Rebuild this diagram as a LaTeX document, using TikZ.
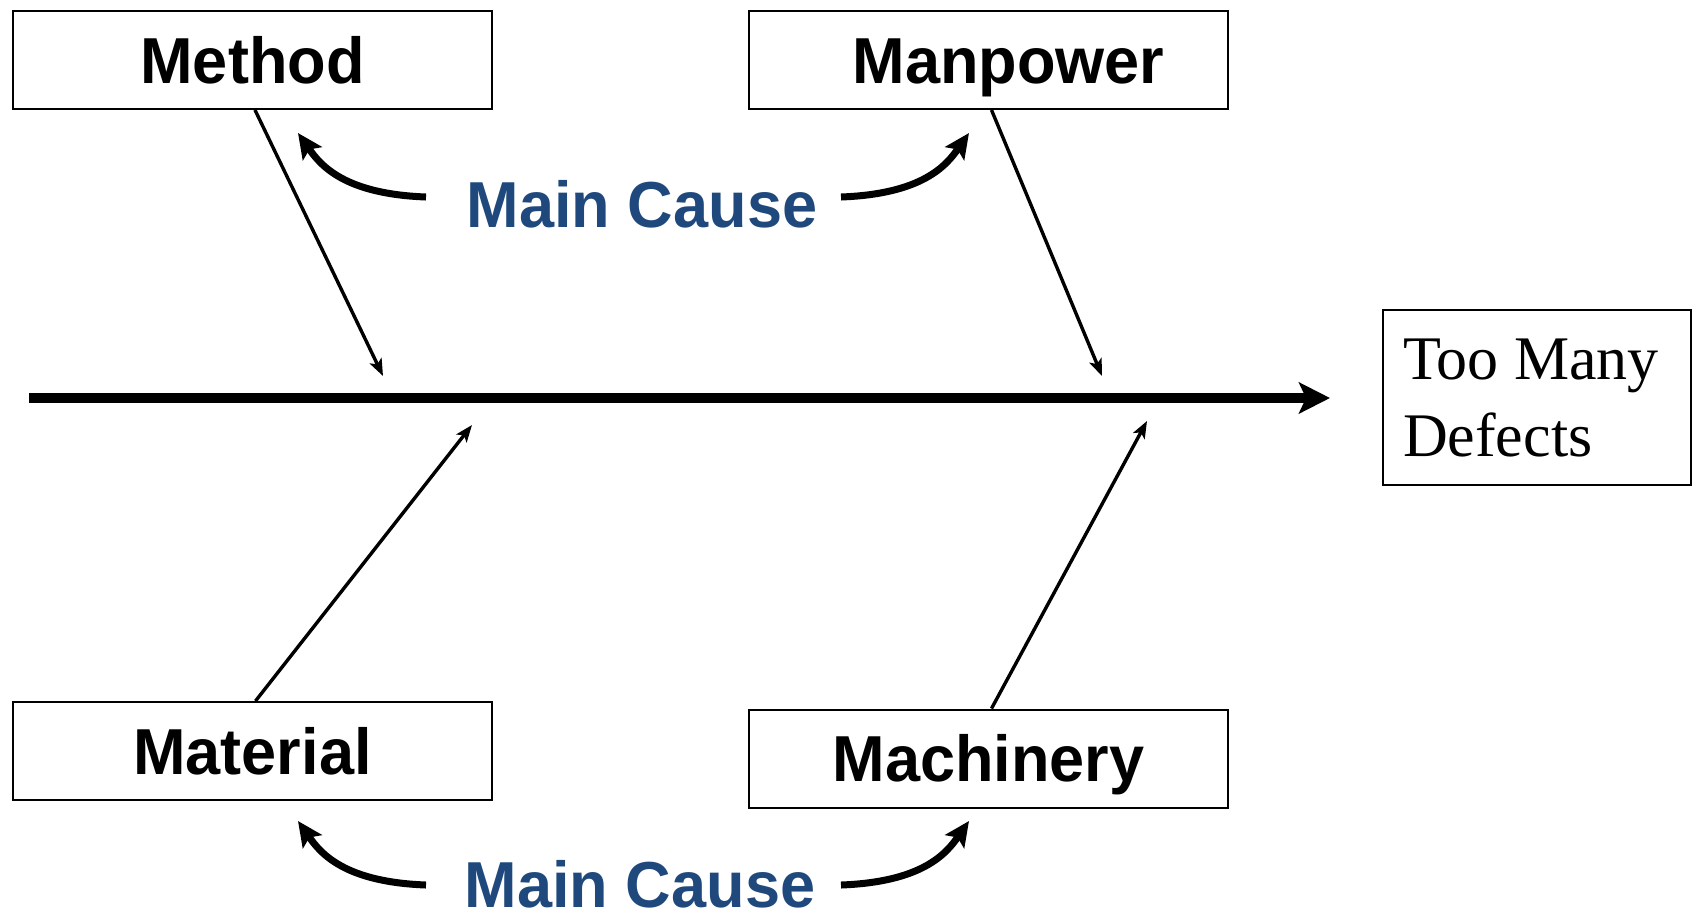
\documentclass[tikz,border=0pt]{standalone}
\usepackage{fontspec}
\setmainfont{Liberation Serif}
\newfontfamily\labelfont[FakeStretch=0.97]{Liberation Sans}
\usetikzlibrary{arrows.meta}
\definecolor{causeblue}{RGB}{31,73,125}
\begin{document}
\begin{tikzpicture}[x=1pt,y=-1pt,
  causebox/.style={draw, line width=2pt, minimum width=479pt, minimum height=98pt,
    inner sep=0pt, text height=46.5pt, text depth=0pt,
    font=\labelfont\bfseries\fontsize{65}{78}\selectfont},
  effectbox/.style={draw, line width=2pt, minimum width=308pt, minimum height=175pt,
    inner xsep=20pt, inner ysep=0pt, text width=268pt, align=flush left,
    font=\fontsize{62}{77}\selectfont},
  causelabel/.style={text=causeblue, inner sep=0pt, text height=46.5pt, text depth=0pt,
    font=\labelfont\bfseries\fontsize{65}{78}\selectfont},
  spine/.style={line width=10pt, -{Stealth[length=31pt,width=31pt,inset=7pt]}},
  bone/.style={line width=3.4pt, -{Stealth[length=17pt,width=13pt,inset=4pt]}},
  pointer/.style={line width=7pt, -{Stealth[length=25pt,width=23pt,inset=5pt]}},
]
\useasboundingbox (0,0) rectangle (1693,914);

% cause categories
\node[causebox] (method)    at (252.5,60)  {Method};
\node[causebox] (manpower)  at (988.5,60)  {\hspace*{40pt}Manpower};
\node[causebox] (material)  at (252.5,751) {Material};
\node[causebox] (machinery) at (988.5,758.5) {Machinery};

% effect
\node[effectbox] (effect) at (1537,397.5) {Too Many\\Defects};

% main-cause callouts
\node[causelabel] (causetop) at (642,204.5) {Main Cause};
\node[causelabel] (causebot) at (640,884) {Main Cause};

% spine of the fishbone
\coordinate (tail) at (29,398);
\coordinate (head) at (1330,398);
\draw[spine] (tail) -- (head);

% bones meeting the spine
\coordinate (j1) at (383,376);
\coordinate (j2) at (1102,376);
\coordinate (j3) at (472,425);
\coordinate (j4) at (1147,421);
\draw[bone] ([xshift=2.5pt]method.south) -- (j1);
\draw[bone] ([xshift=3pt]manpower.south) -- (j2);
\draw[bone] ([xshift=3pt]material.north) -- (j3);
\draw[bone] ([xshift=3pt]machinery.north) -- (j4);

% curved pointers from the callouts to the boxes
\coordinate (a1s) at (426,197); \coordinate (a1e) at (298,133);
\coordinate (a2s) at (841,197); \coordinate (a2e) at (969,133);
\coordinate (a3s) at (426,885); \coordinate (a3e) at (298,821);
\coordinate (a4s) at (841,885); \coordinate (a4e) at (969,821);
\draw[pointer] (a1s) .. controls (345,194) and (321,166) .. (a1e);
\draw[pointer] (a2s) .. controls (922,194) and (946,166) .. (a2e);
\draw[pointer] (a3s) .. controls (345,882) and (321,854) .. (a3e);
\draw[pointer] (a4s) .. controls (922,882) and (946,854) .. (a4e);
\end{tikzpicture}
\end{document}
